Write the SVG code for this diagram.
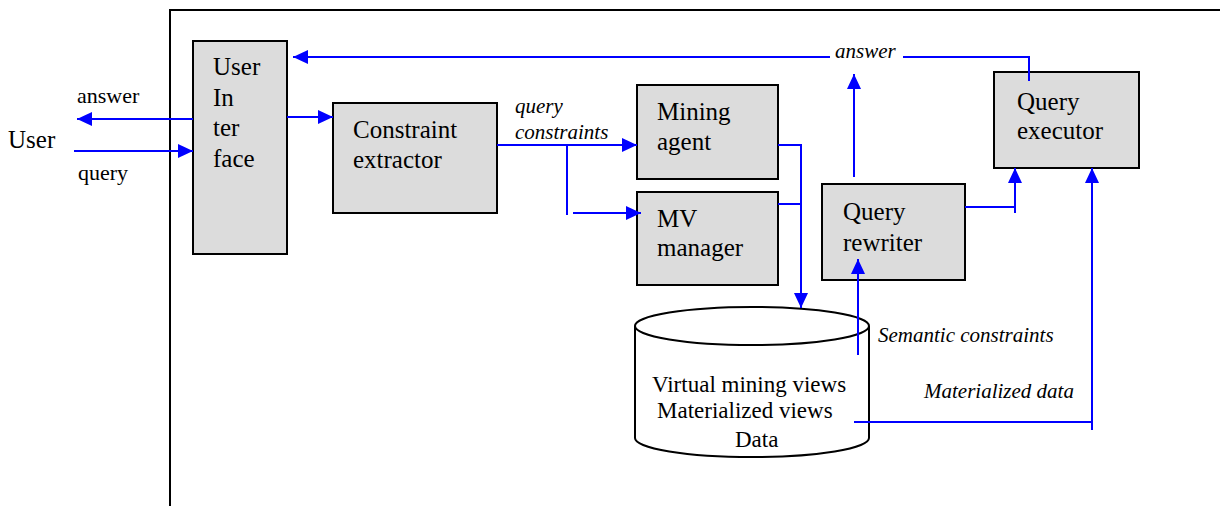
<svg xmlns="http://www.w3.org/2000/svg" width="1220" height="506" viewBox="0 0 1220 506">
  <defs>
    <style>
      .box { fill: #dcdcdc; stroke: #000; stroke-width: 2; }
      .cyl { fill: #fff; stroke: #000; stroke-width: 2; }
      .frame { fill: none; stroke: #000; stroke-width: 2; }
      text { font-family: "Liberation Serif", Tinos, "Times New Roman", Times, "Nimbus Roman", "DejaVu Serif", serif; fill: #000; }
      .t { font-size: 25px; }
      .lbl { font-size: 22px; }
      .db { font-size: 23px; }
      .it { font-size: 21px; font-style: italic; }
      .c { fill: none; stroke: #0000ff; stroke-width: 2; }
      .ca { fill: none; stroke: #0000ff; stroke-width: 2; marker-end: url(#ah); }
    </style>
    <marker id="ah" markerUnits="userSpaceOnUse" markerWidth="16" markerHeight="14" refX="15" refY="7" orient="auto">
      <path d="M0,0 L15,7 L0,14 Z" fill="#0000ff"/>
    </marker>
  </defs>

  <!-- system boundary -->
  <path class="frame" d="M170,506 L170,10 L1220,10"/>

  <!-- external user -->
  <g id="user">
    <text class="t" x="8" y="148">User</text>
  </g>

  <g id="user-interface">
    <rect class="box" x="193" y="41" width="94" height="213"/>
    <text class="t" x="213" y="75">User</text>
    <text class="t" x="213" y="106">In</text>
    <text class="t" x="213" y="136">ter</text>
    <text class="t" x="213" y="167">face</text>
  </g>

  <g id="constraint-extractor">
    <rect class="box" x="333" y="103" width="164" height="110"/>
    <text class="t" x="353" y="138">Constraint</text>
    <text class="t" x="353" y="168">extractor</text>
  </g>

  <g id="mining-agent">
    <rect class="box" x="637" y="85" width="141" height="94"/>
    <text class="t" x="657" y="120">Mining</text>
    <text class="t" x="657" y="150">agent</text>
  </g>

  <g id="mv-manager">
    <rect class="box" x="637" y="192" width="141" height="93"/>
    <text class="t" x="657" y="227">MV</text>
    <text class="t" x="657" y="256">manager</text>
  </g>

  <g id="query-rewriter">
    <rect class="box" x="822" y="184" width="143" height="96"/>
    <text class="t" x="843" y="220">Query</text>
    <text class="t" x="843" y="251">rewriter</text>
  </g>

  <g id="query-executor">
    <rect class="box" x="994" y="72" width="145" height="96"/>
    <text class="t" x="1017" y="110">Query</text>
    <text class="t" x="1017" y="139">executor</text>
  </g>

  <g id="database">
    <path class="cyl" d="M635,326 L635,438 A117,19 0 0 0 869,438 L869,326"/>
    <ellipse class="cyl" cx="752" cy="326" rx="117" ry="19"/>
    <text class="db" x="652" y="392">Virtual mining views</text>
    <text class="db" x="657" y="418">Materialized views</text>
    <text class="db" x="735" y="447">Data</text>
  </g>

  <g id="connectors">
    <!-- user <-> interface -->
    <line class="ca" x1="193" y1="119" x2="77" y2="119"/>
    <line class="ca" x1="74" y1="151" x2="193" y2="151"/>
    <!-- interface -> constraint extractor -->
    <line class="ca" x1="287" y1="117" x2="333" y2="117"/>
    <!-- extracted query constraints -->
    <line class="ca" x1="497" y1="145" x2="637" y2="145"/>
    <line class="c" x1="567" y1="145" x2="567" y2="215"/>
    <line class="ca" x1="573" y1="213" x2="641" y2="213"/>
    <!-- mining agent / MV manager -> views store -->
    <polyline class="c" points="778,145 801,145 801,180"/>
    <polyline class="c" points="778,204 801,204"/>
    <line class="ca" x1="801" y1="180" x2="801" y2="308"/>
    <!-- semantic constraints -> rewriter -->
    <line class="ca" x1="858" y1="355" x2="858" y2="259"/>
    <!-- rewriter -> answer -->
    <line class="ca" x1="854" y1="177" x2="854" y2="74"/>
    <!-- rewriter -> executor -->
    <polyline class="c" points="965,207 1015,207"/>
    <line class="ca" x1="1015" y1="213" x2="1015" y2="168"/>
    <!-- materialized data -> executor -->
    <line class="c" x1="854" y1="422" x2="1092" y2="422"/>
    <line class="ca" x1="1092" y1="430" x2="1092" y2="168"/>
    <!-- executor answer back to interface -->
    <polyline class="c" points="1029,81 1029,57 903,57"/>
    <line class="ca" x1="830" y1="57" x2="293" y2="57"/>
  </g>

  <g id="labels">
    <text class="lbl" x="77" y="103">answer</text>
    <text class="lbl" x="78" y="180">query</text>
    <text class="it" x="515" y="113">query</text>
    <text class="it" x="515" y="139">constraints</text>
    <text class="it" x="835" y="58">answer</text>
    <text class="it" x="878" y="342">Semantic constraints</text>
    <text class="it" x="924" y="398">Materialized data</text>
  </g>
</svg>
